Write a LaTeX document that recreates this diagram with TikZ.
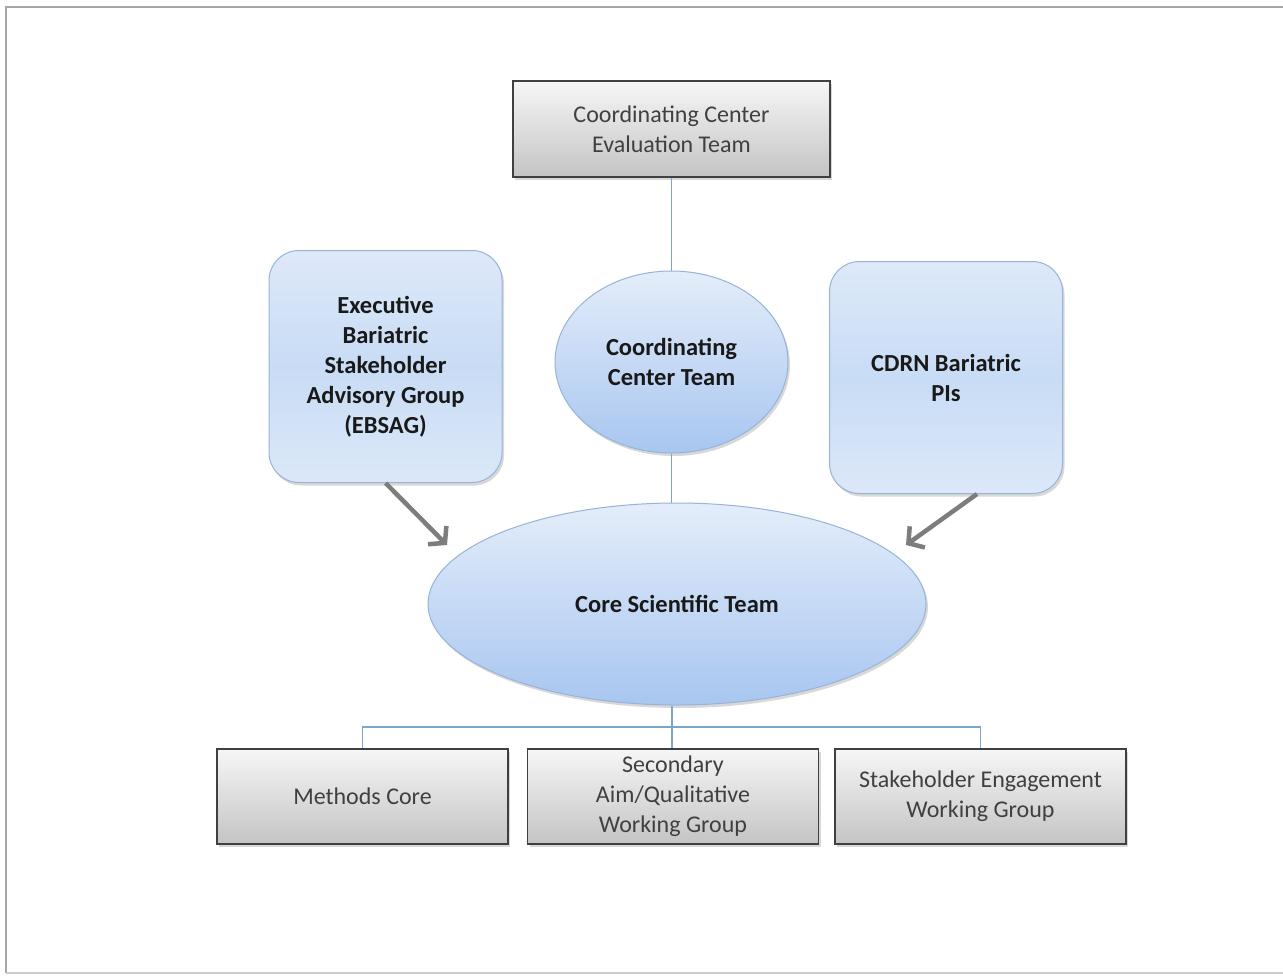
\documentclass[tikz,border=0pt]{standalone}
\usepackage{fontspec}
\setmainfont{Carlito}
\usetikzlibrary{arrows.meta,shapes.geometric,shadows}

\definecolor{linkblue}{RGB}{125,165,200}
\definecolor{ovalline}{RGB}{150,180,215}
\definecolor{ovaltop}{RGB}{228,237,250}
\definecolor{ovalbot}{RGB}{168,198,240}
\definecolor{roundtop}{RGB}{222,233,249}
\definecolor{roundmid}{RGB}{200,220,245}
\definecolor{roundbot}{RGB}{220,232,249}
\definecolor{greytop}{RGB}{246,246,246}
\definecolor{greybot}{RGB}{196,196,196}
\definecolor{arrowgrey}{RGB}{125,125,125}
\definecolor{textgrey}{RGB}{64,64,64}

\tikzset{
  greybox/.style={draw=black!75, line width=1.3pt, top color=greytop, bottom color=greybot,
    minimum width=291pt, minimum height=95pt, align=center, text=textgrey,
    font=\fontsize{24}{30}\selectfont,
    drop shadow={opacity=0.3, shadow xshift=2pt, shadow yshift=-3pt}},
  roundbox/.style={draw=ovalline, line width=1pt, rounded corners=30pt,
    top color=roundtop, bottom color=roundbot, middle color=roundmid,
    minimum width=233pt, minimum height=232pt, align=center, text=black!90,
    font=\bfseries\fontsize{24.5}{30}\selectfont,
    drop shadow={opacity=0.3, shadow xshift=2pt, shadow yshift=-3pt}},
  oval/.style={ellipse, draw=ovalline, line width=1pt, top color=ovaltop, bottom color=ovalbot,
    inner sep=0pt, align=center, text=black!90, font=\bfseries\fontsize{24.5}{30}\selectfont,
    drop shadow={opacity=0.3, shadow xshift=2pt, shadow yshift=-3pt}},
  link/.style={draw=linkblue, line width=1.2pt},
  fatarrow/.style={draw=arrowgrey, line width=4.5pt,
    -{Straight Barb[length=11pt,width=26pt]}}
}

\begin{document}
\begin{tikzpicture}[x=1pt,y=-1pt]
  \useasboundingbox[fill=white] (0,0) rectangle (1283,975);
  % page frame
  \draw[black!35, line width=1.5pt] (6,973) -- (6,7) -- (1290,7);
  \draw[black!20, line width=1.5pt] (6,973) -- (1290,973);

  % boxes and ovals
  \node[greybox, minimum width=317pt, minimum height=96pt] (cce) at (671.5,129) {Coordinating Center\\Evaluation Team};
  \node[oval, minimum width=233pt, minimum height=182pt] (cct) at (671.5,362) {Coordinating\\Center Team};
  \node[oval, minimum width=498pt, minimum height=202pt] (cst) at (677,604) {Core Scientific Team};
  \node[roundbox] (ebsag) at (385.5,366.5) {Executive\\Bariatric\\Stakeholder\\Advisory Group\\(EBSAG)};
  \node[roundbox] (pis) at (946,377.5) {CDRN Bariatric\\PIs};
  \node[greybox] (mc) at (362.5,796.5) {Methods Core};
  \node[greybox] (saq) at (673,796.5) {Secondary\\Aim/Qualitative\\Working Group};
  \node[greybox] (sew) at (980.5,796.5) {Stakeholder Engagement\\Working Group};

  % connectors
  \coordinate (bus) at (672,727);
  \draw[link] (cce.south) -- (cce.south |- cct.north);
  \draw[link] (cct.south) -- (cct.south |- cst.north);
  \draw[link] (bus |- cst.south) -- (bus);
  \draw[link] (bus) -| (mc.north);
  \draw[link] (bus) -| (sew.north);
  \draw[link] (bus) -- (bus |- saq.north);

  % arrows into the core team
  \coordinate (ltip) at (447,545);
  \coordinate (rtip) at (906,545);
  \draw[fatarrow] (ebsag.south) -- (ltip);
  \draw[fatarrow] ([xshift=31pt]pis.south) -- (rtip);
\end{tikzpicture}
\end{document}
